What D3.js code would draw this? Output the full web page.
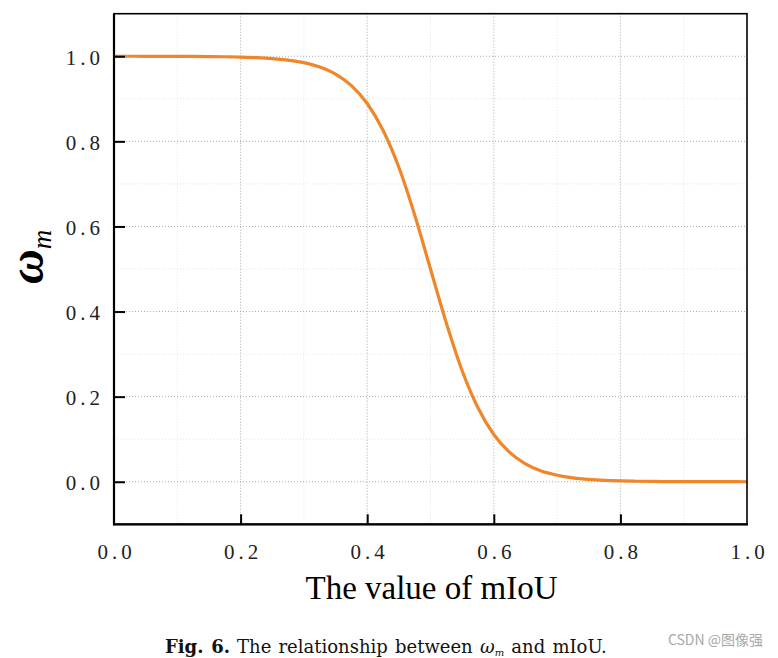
<!DOCTYPE html>
<html>
<head>
<meta charset="utf-8">
<script src="https://cdn.jsdelivr.net/npm/d3@7/dist/d3.min.js"></script>
<style>
html,body{margin:0;padding:0;background:#fff;}
svg{display:block;}
</style>
</head>
<body>
<svg id="chart" width="778" height="658"></svg>
<script>
// Data
const mIoU = [0,0.025,0.05,0.075,0.1,0.125,0.15,0.175,0.2,0.225,0.25,0.275,0.3,0.325,0.35,0.375,0.4,0.425,0.45,0.475,0.5,
  0.525,0.55,0.575,0.6,0.625,0.65,0.675,0.7,0.725,0.75,0.775,0.8,0.825,0.85,0.875,0.9,0.925,0.95,0.975,1.0];
const omega = [1.000,1.000,0.9999,0.9999,0.9998,0.9996,0.9993,0.9988,0.998,0.9967,0.9945,0.9908,0.985,0.9745,0.958,0.931,0.889,0.826,0.739,0.627,0.500,
  0.373,0.261,0.174,0.111,0.069,0.042,0.025,0.0154,0.0092,0.0055,0.0033,0.0019,0.0012,0.0007,0.0004,0.0002,0.0001,0.0001,0.0001,0.0000];
const xTicks = [0,0.2,0.4,0.6,0.8,1.0];
const yTicks = [0,0.2,0.4,0.6,0.8,1.0];
const xMinor = [0.1,0.3,0.5,0.7,0.9];
const yMinor = [0.1,0.3,0.5,0.7,0.9];
const xTitle = "The value of mIoU";

const svg = d3.select("#chart");
const L = 114, R = 747, T = 13.7, B = 524.3;
const x = d3.scaleLinear().domain([0,1]).range([L,R]);
const y = d3.scaleLinear().domain([-0.1,1.1]).range([B,T]);
const fmt = d3.format(".1f");

// minor grid
const g = svg.append("g");
g.selectAll(".mx").data(xMinor).join("line")
  .attr("x1",d=>x(d)).attr("x2",d=>x(d)).attr("y1",T).attr("y2",B)
  .attr("stroke","#dcdcdc").attr("stroke-width",0.8).attr("stroke-dasharray","1,2");
g.selectAll(".my").data(yMinor).join("line")
  .attr("y1",d=>y(d)).attr("y2",d=>y(d)).attr("x1",L).attr("x2",R)
  .attr("stroke","#dcdcdc").attr("stroke-width",0.8).attr("stroke-dasharray","1,2");
// major grid
g.selectAll(".gx").data(xTicks.slice(1,-1)).join("line")
  .attr("x1",d=>x(d)).attr("x2",d=>x(d)).attr("y1",T).attr("y2",B)
  .attr("stroke","#a0a0a0").attr("stroke-width",0.9).attr("stroke-dasharray","1,2");
g.selectAll(".gy").data(yTicks).join("line")
  .attr("y1",d=>y(d)).attr("y2",d=>y(d)).attr("x1",L).attr("x2",R)
  .attr("stroke","#a0a0a0").attr("stroke-width",0.9).attr("stroke-dasharray","1,2");

// curve
svg.append("defs").append("clipPath").attr("id","clip")
  .append("rect").attr("x",L).attr("y",T).attr("width",R-L).attr("height",B-T);
const line = d3.line().x((d,i)=>x(mIoU[i])).y(d=>y(d)).curve(d3.curveMonotoneX);
svg.append("path").datum(omega).attr("d",line).attr("clip-path","url(#clip)")
  .attr("fill","none").attr("stroke","#f0862a").attr("stroke-width",3.2);

// frame
svg.append("rect").attr("x",L).attr("y",T).attr("width",R-L).attr("height",B-T)
  .attr("fill","none").attr("stroke","#000").attr("stroke-width",1.6);
svg.append("line").attr("x1",L).attr("x2",L).attr("y1",T).attr("y2",B+1).attr("stroke","#000").attr("stroke-width",2.2);
svg.append("line").attr("x1",L-1).attr("x2",R+1).attr("y1",B).attr("y2",B).attr("stroke","#000").attr("stroke-width",2.2);

// axes (ticks inward)
const xAxis = d3.axisBottom(x).tickValues(xTicks).tickSize(-10).tickPadding(18).tickFormat(fmt);
const ax = svg.append("g").attr("transform",`translate(0,${B})`).call(xAxis);
ax.select(".domain").remove();
ax.selectAll(".tick line").attr("stroke","#000").attr("stroke-width",2);
ax.selectAll(".tick").filter(d=>d===0||d===1).select("line").remove();
ax.selectAll(".tick text").attr("font-family","Liberation Serif, serif").attr("font-size",21)
  .attr("fill","#222").attr("letter-spacing",4).attr("dx",2).attr("dy","0.78em");

const yAxis = d3.axisLeft(y).tickValues(yTicks).tickSize(-11).tickPadding(14).tickFormat(fmt);
const ay = svg.append("g").attr("transform",`translate(${L},0)`).call(yAxis);
ay.select(".domain").remove();
ay.selectAll(".tick line").attr("stroke","#000").attr("stroke-width",2);
ay.selectAll(".tick text").attr("font-family","Liberation Serif, serif").attr("font-size",21)
  .attr("fill","#222").attr("letter-spacing",4).attr("dx",4).attr("dy","0.38em");

// x title
svg.append("text").attr("x",(L+R)/2+1).attr("y",599).attr("text-anchor","middle")
  .attr("font-family","Liberation Serif, serif").attr("font-size",33).attr("fill","#000").text(xTitle);

// y title omega_m
const yt = svg.append("text").attr("transform","translate(43,284) rotate(-90)")
  .attr("font-family","Liberation Serif, serif").attr("font-style","italic").attr("fill","#000");
yt.append("tspan").attr("font-size",48).attr("font-weight","bold").text("ω");
yt.append("tspan").attr("font-size",27).attr("dy",8).text("m");

// caption
const cap = svg.append("text").attr("x",165).attr("y",653)
  .attr("font-family","DejaVu Serif, serif").attr("font-size",18).attr("word-spacing",1.5).attr("fill","#111");
cap.append("tspan").attr("font-weight","bold").text("Fig. 6.");
cap.append("tspan").attr("dx",7).text("The relationship between ");
cap.append("tspan").attr("font-style","italic").text("ω");
cap.append("tspan").attr("font-style","italic").attr("font-size",10).attr("dy",3).text("m");
cap.append("tspan").attr("dy",-3).text(" and mIoU.");

// watermark
svg.append("text").attr("x",763).attr("y",645).attr("text-anchor","end")
  .attr("font-family","Noto Sans CJK SC, sans-serif").attr("font-size",14).attr("fill","#a8a8a8").text("CSDN @图像强");
</script>
</body>
</html>
